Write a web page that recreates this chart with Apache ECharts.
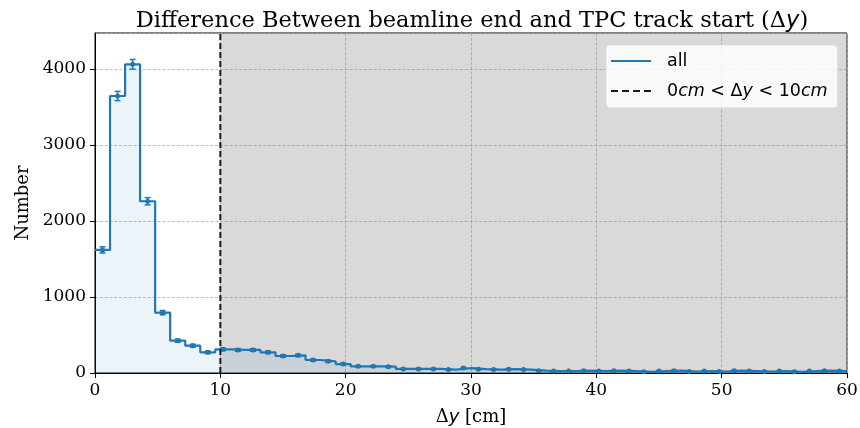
<!DOCTYPE html>
<html><head><meta charset="utf-8">
<script src="https://cdn.jsdelivr.net/npm/echarts@6/dist/echarts.min.js"></script>
<style>html,body{margin:0;padding:0;background:#fff}#c{width:860px;height:428px}</style>
</head><body><div id="c"></div>
<script>
var binStart = 0;
var binWidth = 1.2;
var counts = [1620, 3645, 4062, 2260, 794, 425, 360, 272, 311, 303,
              303, 272, 224, 232, 171, 154, 118, 88, 88, 83,
              53, 53, 53, 45, 65, 50, 45, 50, 45, 30,
              25, 25, 30, 25, 30, 25, 15, 25, 30, 20,
              25, 20, 30, 25, 20, 25, 15, 25, 30, 25];
var xTicks = [0, 10, 20, 30, 40, 50, 60];
var yTicks = [0, 1000, 2000, 3000, 4000];
var cutLow = 0, cutHigh = 10;
var xMax = 60, yMax = 4474;

var blue = '#1f77b4';
var stepData = counts.map(function (c, i) { return [binStart + i * binWidth, c]; });
stepData.push([binStart + counts.length * binWidth, counts[counts.length - 1]]);
var errData = counts.map(function (c, i) { return [binStart + (i + 0.5) * binWidth, c, Math.sqrt(c)]; });

var chart = echarts.init(document.getElementById('c'));
var serif = 'DejaVu Serif';
var sans = 'DejaVu Sans';
chart.setOption({
  animation: false,
  title: {
    text: '{n|Difference Between beamline end and TPC track start (Δ}{i|y}{n|)}',
    left: 467, top: 5, textAlign: 'center',
    textStyle: { fontWeight: 'normal', rich: {
      n: { fontFamily: serif, fontSize: 22.5, fontWeight: 'normal', color: '#000' },
      i: { fontFamily: sans, fontStyle: 'italic', fontSize: 22.5, fontWeight: 'normal', color: '#000' }
    } }
  },
  grid: { left: 95, right: 13, top: 33, bottom: 55, outerBoundsMode: 'none', containLabel: false,
    show: true, borderColor: '#000', borderWidth: 1, backgroundColor: 'transparent' },
  legend: {
    left: 606, top: 45, orient: 'vertical', itemGap: 12, itemWidth: 40, itemHeight: 2,
    padding: [7, 10, 8, 5],
    backgroundColor: 'rgba(255,255,255,0.85)', borderColor: '#ddd', borderWidth: 1, borderRadius: 4,
    data: [
      { name: 'all', icon: 'path://M0 0H40V2H0Z' },
      { name: 'cut', icon: 'path://M0 0H7V2H0Z M11 0H18V2H11Z M22 0H29V2H22Z M33 0H40V2H33Z' }
    ],
    formatter: function (n) {
      if (n === 'all') return '{sp|}{s|all}';
      return '{sp|}{s|0}{i|cm}{s| < Δ}{i|y}{s| < 10}{i|cm}';
    },
    textStyle: { rich: {
      sp: { width: 11, fontSize: 17.5 },
      s: { fontFamily: sans, fontSize: 17.5, color: '#000', lineHeight: 20 },
      i: { fontFamily: sans, fontStyle: 'italic', fontSize: 17.5, color: '#000', lineHeight: 20 }
    } }
  },
  xAxis: {
    type: 'value', min: 0, max: xMax, interval: 10,
    name: '{n|Δ}{i|y}{n| [cm]}', nameLocation: 'middle', nameGap: 35,
    nameTextStyle: { rich: {
      n: { fontFamily: serif, fontSize: 18, color: '#000' },
      i: { fontFamily: sans, fontStyle: 'italic', fontSize: 18, color: '#000' }
    } },
    axisLine: { onZero: false, lineStyle: { color: '#000' } },
    axisTick: { show: true, inside: false, length: 5, lineStyle: { color: '#000' } },
    axisLabel: { color: '#000', fontFamily: serif, fontSize: 17, margin: 9,
      formatter: function (v) { return xTicks.indexOf(v) >= 0 ? String(v) : ''; } },
    splitLine: { show: true, lineStyle: { color: '#b0b0b0', type: 'dashed', width: 0.8 } }
  },
  yAxis: {
    type: 'value', min: 0, max: yMax, interval: 1000,
    name: 'Number', nameLocation: 'middle', nameGap: 62,
    nameTextStyle: { fontFamily: serif, fontSize: 18, color: '#000' },
    axisLine: { show: true, lineStyle: { color: '#000' } },
    axisTick: { show: true, inside: false, length: 5, lineStyle: { color: '#000' } },
    axisLabel: { color: '#000', fontFamily: serif, fontSize: 17, margin: 9, showMaxLabel: false,
      formatter: function (v) { return yTicks.indexOf(v) >= 0 ? String(v) : ''; } },
    splitLine: { show: true, lineStyle: { color: '#b0b0b0', type: 'dashed', width: 0.8 } }
  },
  series: [
    {
      name: 'fill', type: 'line', step: 'end', data: stepData, symbol: 'none', z: 1,
      lineStyle: { width: 0 }, areaStyle: { color: 'rgba(31,119,180,0.11)', origin: 'start' },
      silent: true
    },
    {
      name: 'shade', type: 'line', data: [], z: 2, silent: true,
      markArea: { silent: true, itemStyle: { color: 'rgba(128,128,128,0.3)' },
        data: [[{ xAxis: cutHigh }, { xAxis: xMax }]] }
    },
    {
      name: 'all', type: 'line', step: 'end', data: stepData, symbol: 'none', z: 4,
      lineStyle: { color: blue, width: 2.2 }, itemStyle: { color: blue }
    },
    {
      name: 'err', type: 'custom', z: 5, data: errData,
      renderItem: function (params, api) {
        var x = api.value(0), y = api.value(1), e = api.value(2);
        var p = api.coord([x, y]);
        var lo = api.coord([x, y - e]);
        var hi = api.coord([x, y + e]);
        var st = { stroke: blue, lineWidth: 1.5 };
        return { type: 'group', children: [
          { type: 'line', shape: { x1: p[0], y1: lo[1], x2: p[0], y2: hi[1] }, style: st },
          { type: 'line', shape: { x1: p[0] - 3, y1: lo[1], x2: p[0] + 3, y2: lo[1] }, style: st },
          { type: 'line', shape: { x1: p[0] - 3, y1: hi[1], x2: p[0] + 3, y2: hi[1] }, style: st },
          { type: 'circle', shape: { cx: p[0], cy: p[1], r: 2.5 }, style: { fill: blue } }
        ] };
      }
    },
    {
      name: 'cut', type: 'line', data: [[cutHigh, 0], [cutHigh, yMax]], symbol: 'none', z: 6,
      lineStyle: { color: '#1a1a1a', width: 2, type: [6, 3] }, itemStyle: { color: '#1a1a1a' }
    }
  ]
});
</script></body></html>
